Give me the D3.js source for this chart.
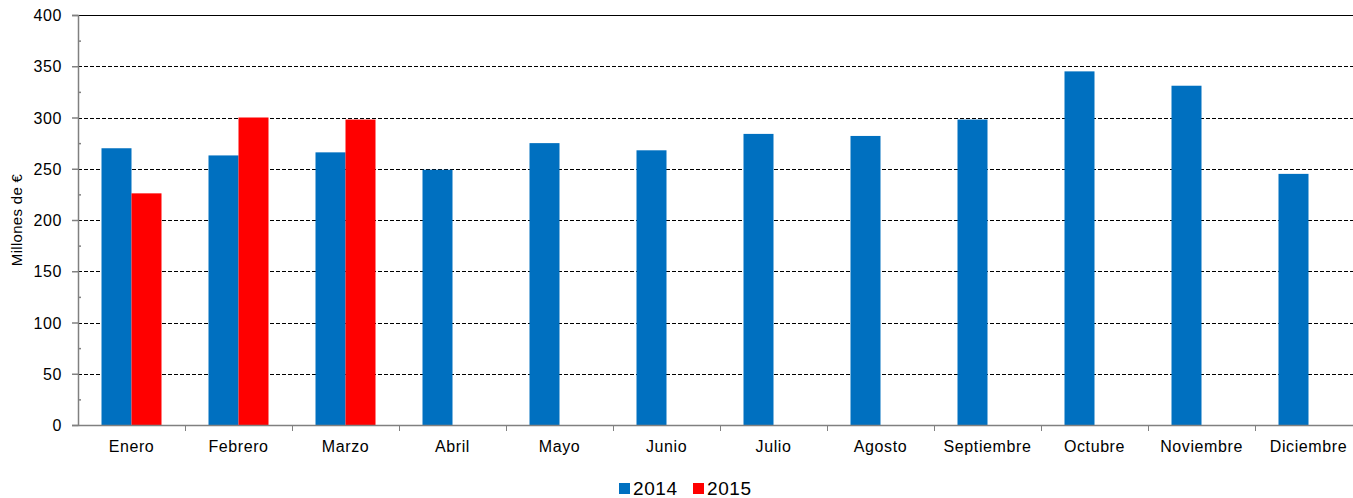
<!DOCTYPE html>
<html>
<head>
<meta charset="utf-8">
<script src="https://cdn.jsdelivr.net/npm/d3@7"></script>
<style>
body { margin: 0; background: #fff; }
text { font-family: "Liberation Sans", Arial, sans-serif; fill: #000; }
</style>
</head>
<body>
<script>
// Recaudación mensual, millones de euros
var months = ["Enero", "Febrero", "Marzo", "Abril", "Mayo", "Junio", "Julio",
  "Agosto", "Septiembre", "Octubre", "Noviembre", "Diciembre"];
var series = ["2014", "2015"];
var values2014 = [270, 263, 266, 249, 275, 268, 284, 282, 298, 345, 331, 245];
var values2015 = [226, 300, 298, null, null, null, null, null, null, null, null, null];
var yTicks = [0, 50, 100, 150, 200, 250, 300, 350, 400];
var colors = ["#0070C0", "#FF0000"];

var width = 1353;
var height = 498;

var margin = {
  top: 15,
  left: 78,
  right: -9,
  bottom: 73
};

var svg = d3.select("body")
  .append("svg")
  .attr("width", width)
  .attr("height", height);

var xScale = d3.scaleBand()
  .domain(months)
  .range([margin.left, width - margin.right]);

var inner = d3.scaleBand()
  .domain(series)
  .range([0, 60])
  .padding(0);

var yScale = d3.scaleLinear()
  .domain([0, 400])
  .range([height - margin.bottom, margin.top]);

// gridlines
svg.append("g")
  .selectAll("line")
  .data(yTicks.filter(function(d) { return d > 0; }))
  .enter()
  .append("line")
    .attr("x1", margin.left)
    .attr("x2", width - margin.right)
    .attr("y1", function(d) { return Math.round(yScale(d)) + 0.5; })
    .attr("y2", function(d) { return Math.round(yScale(d)) + 0.5; })
    .attr("stroke", "#000")
    .attr("stroke-width", 1)
    .attr("stroke-dasharray", function(d) { return d === 400 ? null : "4,2"; });

// bars
var rows = months.map(function(m, i) {
  return {month: m, vals: [values2014[i], values2015[i]]};
});

var groups = svg.selectAll(".group")
  .data(rows)
  .enter()
  .append("g")
    .attr("transform", function(d) {
      return "translate(" + (xScale(d.month) + (xScale.bandwidth() - 60) / 2) + ",0)";
    });

groups.selectAll("rect")
  .data(function(d) {
    return series.map(function(s, j) { return {s: s, v: d.vals[j], c: colors[j]}; })
      .filter(function(e) { return e.v != null; });
  })
  .enter()
  .append("rect")
    .attr("x", function(d) { return inner(d.s); })
    .attr("width", inner.bandwidth())
    .attr("y", function(d) { return yScale(d.v); })
    .attr("height", function(d) { return yScale(0) - yScale(d.v); })
    .attr("fill", function(d) { return d.c; });

// y axis
var yAxis = svg.append("g")
  .attr("transform", "translate(" + margin.left + ",0)")
  .call(d3.axisLeft(yScale).tickValues(yTicks).tickSize(6).tickPadding(10));

svg.append("g")
  .attr("transform", "translate(" + margin.left + ",0)")
  .call(d3.axisRight(yScale).tickValues(d3.range(25, 400, 50)).tickSize(3).tickFormat(""))
  .select(".domain").remove();

// x axis
var xAxis = svg.append("g")
  .attr("transform", "translate(0," + yScale(0) + ")")
  .call(d3.axisBottom(xScale).tickSize(0).tickPadding(16));

svg.append("g")
  .selectAll("line")
  .data(months.slice(1))
  .enter()
  .append("line")
    .attr("x1", function(d) { return Math.round(xScale(d)) + 0.5; })
    .attr("x2", function(d) { return Math.round(xScale(d)) + 0.5; })
    .attr("y1", yScale(0))
    .attr("y2", yScale(0) + 6)
    .attr("stroke", "#808080");

svg.selectAll(".domain, .tick line")
  .attr("stroke", "#808080")
  .attr("stroke-width", 1.5);

svg.selectAll(".tick text")
  .style("font-family", "'Liberation Sans', Arial, sans-serif")
  .style("font-size", "16px")
  .style("letter-spacing", "0.6px")
  .attr("fill", "#000");

yAxis.selectAll(".tick text").attr("dy", "0.35em");

// y label
svg.append("text")
  .attr("transform", "translate(22," + (height - margin.bottom + margin.top) / 2 + ") rotate(-90)")
  .attr("text-anchor", "middle")
  .style("font-size", "15px")
  .style("letter-spacing", "0.3px")
  .text("Millones de €");

// legend
var legend = svg.append("g")
  .attr("transform", "translate(619,483)");

var items = legend.selectAll("g")
  .data(series)
  .enter()
  .append("g")
    .attr("transform", function(d, i) { return "translate(" + (i * 74) + ",0)"; });

items.append("rect")
  .attr("width", 11)
  .attr("height", 11)
  .attr("fill", function(d, i) { return colors[i]; });

items.append("text")
  .attr("x", 14)
  .attr("y", 12)
  .style("font-size", "19px")
  .style("letter-spacing", "0.6px")
  .text(function(d) { return d; });
</script>
</body>
</html>
